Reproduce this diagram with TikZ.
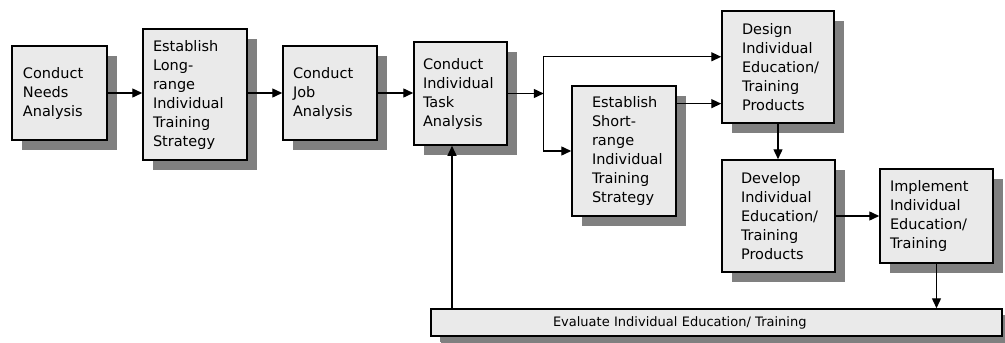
\documentclass[tikz,border=0pt]{standalone}
\usepackage{fontspec}
\setmainfont{DejaVu Sans}
\usetikzlibrary{arrows.meta,shadows,calc}
\definecolor{boxfill}{RGB}{234,234,234}
\definecolor{shade}{RGB}{128,128,128}
\begin{document}
\begin{tikzpicture}[x=1pt,y=-1pt,
  stage/.style={draw=black, line width=1.5pt, fill=boxfill, align=left, inner ysep=2pt,
    font=\fontsize{14.5}{19}\selectfont,
    drop shadow={shadow xshift=10pt, shadow yshift=-10pt, fill=shade, opacity=1}},
  flow/.style={line width=1.4pt, -{Triangle[length=10pt,width=9pt]}}]
\fill[white] (0,0) rectangle (1005,343);
\useasboundingbox (0,0) rectangle (1005,343);

% process stages
\node[stage, text width=73pt, inner xsep=11pt, minimum height=94pt] (needs) at (59.5,93) {Conduct\\Needs\\Analysis};
\node[stage, text width=84pt, inner xsep=10pt, minimum height=131pt] (long) at (195,94.5) {Establish\\Long-\\range\\Individual\\Training\\Strategy};
\node[stage, text width=74pt, inner xsep=10pt, minimum height=94pt] (job) at (330,93) {Conduct\\Job\\Analysis};
\node[stage, text width=75pt, inner xsep=9pt, minimum height=103pt] (task) at (460.5,93.5) {Conduct\\Individual\\Task\\Analysis};
\node[stage, text width=64pt, inner xsep=20pt, minimum height=130pt] (short) at (624,151) {Establish\\Short-\\range\\Individual\\Training\\Strategy};
\node[stage, text width=72pt, inner xsep=20pt, minimum height=112pt] (design) at (778,67) {Design\\Individual\\Education/\\Training\\Products};
\node[stage, text width=75pt, inner xsep=19pt, minimum height=112pt] (develop) at (778.5,216) {Develop\\Individual\\Education/\\Training\\Products};
\node[stage, text width=93pt, inner xsep=10pt, minimum height=94pt] (impl) at (936.5,216) {Implement\\Individual\\Education/\\Training};
\node[stage, text width=327pt, inner xsep=122pt, minimum height=27pt, inner ysep=1pt,
  font=\fontsize{13}{16}\selectfont, drop shadow={shadow xshift=9pt, shadow yshift=-6pt, fill=shade, opacity=1}]
  (eval) at (716.5,322.5) {Evaluate Individual Education/ Training};

% connector points
\coordinate (split) at ($(task.east)+(36,0)$);
\coordinate (feedback) at ($(task.south)+(-8.5,0)$);
\coordinate (shortout) at ($(short.north east)!0.14!(short.south east)$);
\coordinate (designin) at ($(design.north west)!0.41!(design.south west)$);

% connectors
\draw[flow] (needs.east) -- (needs.east -| long.west);
\draw[flow] (long.east |- job.west) -- (job.west);
\draw[flow] (job.east) -- (job.east -| task.west);
\draw[flow] (task.east) -- (split);
\draw[flow] (split) |- (designin);
\draw[flow] (split) |- (short.west);
\draw[flow] (shortout) -- (shortout -| design.west);
\draw[flow] (design.south) -- (design.south |- develop.north);
\draw[flow] (develop.east) -- (develop.east -| impl.west);
\draw[flow] (impl.south) -- (impl.south |- eval.north);
\draw[flow] (feedback |- eval.north) -- (feedback);
\end{tikzpicture}
\end{document}
